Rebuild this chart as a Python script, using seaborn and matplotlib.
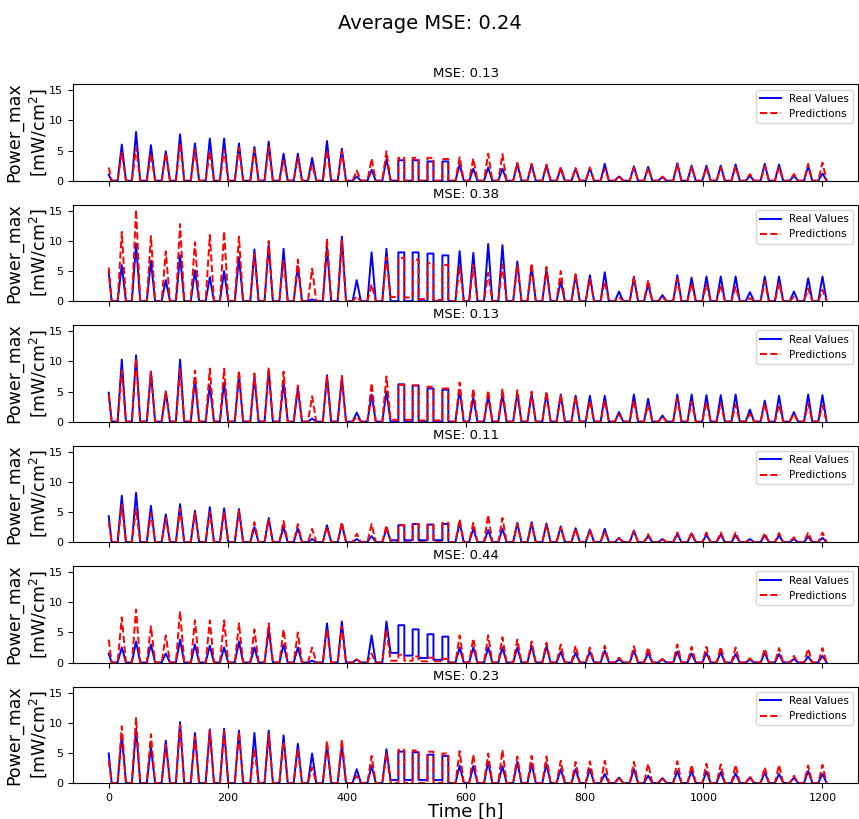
import pandas as pd
import seaborn as sns
import matplotlib
matplotlib.use("Agg")
import matplotlib.pyplot as plt

# --- data: one peak per day, per panel ---
day_times = [0, 22, 46, 71, 96, 120, 145, 170, 194, 219,
             245, 269, 294, 318, 342, 367, 392, 417, 442, 467,
             492, 516, 541, 566, 590, 613, 638, 662, 687, 711,
             736, 760, 785, 809, 834, 858, 883, 907, 931, 956,
             980, 1005, 1029, 1054, 1078, 1103, 1127, 1152, 1176, 1200]
box_days = [20, 21, 22, 23]          # days where the curve is a flat-topped block
mse_values = [0.13, 0.38, 0.13, 0.11, 0.44, 0.23]
avg_mse = 0.24

real_1 = [1.0, 6.0, 8.1, 5.9, 4.9, 7.7, 6.2, 7.0, 7.0, 6.2, 5.6, 6.5, 4.5, 4.5, 3.8, 6.6, 5.3, 0.7, 1.8, 3.6,
          3.4, 3.4, 3.2, 3.2, 2.7, 2.0, 2.2, 2.0, 2.8, 2.7, 2.5, 2.0, 2.0, 2.1, 2.8, 0.7, 2.4, 2.3, 0.6, 2.9,
          2.5, 2.5, 2.5, 2.7, 0.8, 2.8, 2.7, 0.8, 2.4, 1.2]
pred_1 = [2.2, 4.7, 5.5, 4.5, 4.6, 6.3, 5.2, 4.9, 5.2, 5.5, 5.2, 5.6, 3.4, 3.9, 2.7, 5.1, 4.9, 1.7, 3.7, 4.9,
          3.8, 3.8, 3.8, 3.6, 3.9, 3.7, 4.5, 4.4, 3.0, 2.8, 2.7, 2.3, 2.1, 2.2, 2.0, 0.8, 2.2, 2.1, 0.7, 2.7,
          2.3, 2.2, 2.2, 2.3, 1.1, 2.4, 2.2, 1.1, 2.8, 3.0]
real_2 = [4.8, 6.0, 9.5, 6.7, 3.5, 7.6, 5.1, 4.0, 5.0, 7.3, 8.6, 9.3, 8.7, 5.8, 0.3, 9.0, 10.7, 3.5, 8.1, 8.7,
          8.1, 8.1, 7.9, 7.6, 8.3, 8.0, 9.5, 9.3, 6.6, 5.8, 5.2, 3.3, 4.3, 4.3, 4.8, 1.6, 3.9, 2.8, 1.0, 4.3,
          3.9, 4.1, 4.1, 4.1, 1.5, 4.1, 4.1, 1.6, 3.8, 4.1]
pred_2 = [5.6, 11.5, 15.2, 10.8, 8.3, 12.8, 9.8, 11.0, 11.6, 10.7, 7.9, 10.0, 6.7, 6.9, 5.4, 10.4, 10.1, 0.8, 2.8, 7.3,
          7.2, 6.9, 6.3, 6.0, 5.8, 6.0, 4.7, 6.0, 6.0, 6.3, 5.7, 5.0, 4.5, 3.7, 3.3, 0.7, 4.1, 3.5, 0.7, 3.7,
          3.0, 2.8, 2.7, 2.4, 0.5, 3.3, 3.0, 0.7, 2.1, 1.9]
real_3 = [4.8, 10.3, 11.0, 8.3, 5.0, 10.3, 7.0, 6.0, 6.5, 7.8, 7.5, 8.5, 6.5, 5.5, 0.5, 7.7, 7.3, 1.5, 4.5, 5.0,
          6.2, 6.0, 5.5, 5.3, 5.3, 4.0, 4.3, 4.5, 4.7, 4.6, 4.7, 4.5, 4.3, 4.3, 4.3, 1.6, 4.5, 3.8, 1.0, 4.5,
          4.5, 4.4, 4.4, 4.5, 2.0, 3.5, 4.3, 1.6, 4.5, 4.4]
pred_3 = [4.5, 8.5, 10.5, 8.3, 5.0, 8.7, 8.5, 8.8, 8.8, 8.5, 8.0, 9.0, 8.3, 6.0, 4.2, 7.5, 7.6, 0.8, 6.4, 7.5,
          6.1, 6.0, 5.8, 5.5, 6.5, 5.5, 5.2, 5.5, 5.2, 5.0, 5.0, 4.5, 4.2, 3.5, 3.5, 1.2, 3.5, 2.8, 0.8, 3.8,
          3.3, 3.3, 3.0, 2.8, 1.3, 3.0, 2.8, 1.3, 3.0, 2.7]
real_4 = [4.3, 7.7, 8.2, 6.0, 4.6, 6.3, 5.2, 5.8, 5.6, 5.5, 2.5, 4.0, 2.5, 2.3, 0.5, 2.8, 3.0, 0.5, 1.0, 2.2,
          2.8, 3.0, 2.9, 3.0, 3.2, 2.2, 2.0, 2.2, 3.2, 3.3, 3.1, 2.6, 2.3, 2.1, 2.2, 0.7, 1.9, 1.0, 0.5, 1.3,
          1.4, 1.2, 1.2, 1.1, 0.5, 1.1, 1.1, 0.5, 0.9, 0.7]
pred_4 = [3.3, 6.2, 5.5, 4.8, 4.0, 5.5, 4.8, 5.0, 5.0, 5.2, 3.3, 3.7, 3.5, 3.0, 2.2, 2.5, 3.3, 1.4, 3.0, 2.8,
          2.8, 3.0, 2.9, 3.2, 3.8, 3.2, 4.5, 4.0, 3.0, 3.0, 2.9, 2.4, 2.2, 2.0, 1.8, 0.6, 1.8, 1.3, 0.4, 1.6,
          1.6, 1.6, 1.6, 1.6, 0.3, 1.5, 1.5, 0.8, 1.6, 1.6]
real_5 = [1.5, 2.5, 3.5, 3.0, 1.5, 3.8, 3.0, 2.8, 2.5, 3.5, 2.5, 5.5, 3.0, 2.5, 0.3, 6.5, 6.8, 0.5, 4.5, 6.8,
          6.2, 5.5, 4.7, 4.3, 2.5, 2.5, 2.5, 2.5, 2.5, 2.8, 2.7, 1.8, 1.6, 1.8, 2.0, 0.5, 2.0, 1.6, 0.5, 1.8,
          1.5, 1.6, 1.7, 1.4, 0.5, 1.6, 1.4, 0.6, 1.0, 1.1]
pred_5 = [3.8, 7.5, 8.8, 6.0, 4.5, 8.5, 7.0, 7.0, 7.0, 6.5, 5.5, 6.5, 5.5, 5.0, 2.5, 5.5, 6.0, 0.5, 1.5, 5.5,
          1.3, 1.0, 0.8, 0.6, 4.5, 4.0, 4.5, 4.2, 3.8, 3.5, 3.3, 3.0, 2.8, 2.5, 2.8, 0.8, 2.7, 2.5, 0.6, 3.0,
          2.6, 2.6, 2.6, 2.5, 0.7, 2.3, 2.4, 1.1, 2.3, 2.4]
real_6 = [4.9, 8.0, 9.0, 6.0, 7.0, 10.1, 8.3, 8.9, 9.0, 8.7, 8.3, 8.7, 7.9, 6.5, 4.9, 6.3, 6.3, 2.3, 2.9, 5.6,
          5.2, 5.1, 4.7, 4.5, 2.9, 2.8, 3.5, 2.8, 3.5, 3.2, 3.2, 2.3, 2.3, 2.3, 1.5, 0.9, 2.3, 1.2, 0.8, 2.0,
          2.0, 1.9, 1.8, 1.6, 0.9, 1.8, 1.5, 0.9, 2.0, 1.5]
pred_6 = [3.7, 9.4, 10.8, 8.1, 6.3, 9.7, 7.7, 8.7, 8.6, 8.5, 5.7, 8.0, 6.9, 5.7, 2.6, 7.0, 7.2, 1.2, 4.5, 4.9,
          5.5, 5.4, 5.2, 4.9, 5.3, 4.7, 4.9, 5.5, 4.4, 4.5, 4.4, 3.7, 3.5, 3.6, 3.7, 1.0, 3.5, 3.2, 0.9, 3.6,
          3.0, 3.2, 3.1, 3.0, 1.1, 2.6, 3.0, 1.2, 2.9, 3.0]

# night levels before box days 20..23 and before day 24 (elsewhere the night is 0)
real_gaps = [[0, 0, 0, 0, 0], [0, 0, 0, 0, 0], [0, 0, 0, 0, 0],
             [0.3, 0.3, 0.3, 0.3, 0], [1.6, 1.15, 0.75, 0.45, 0], [0.5, 0.5, 0.5, 0.5, 0]]
pred_gaps = [[0, 0, 0, 0, 0], [0.7, 0.6, 0.35, 0.2, 0], [0.3, 0.3, 0.2, 0.2, 0],
             [0, 0, 0, 0, 0], [0.3, 0.3, 0.2, 0.2, 0], [0, 0, 0, 0, 0]]

reals = [real_1, real_2, real_3, real_4, real_5, real_6]
preds = [pred_1, pred_2, pred_3, pred_4, pred_5, pred_6]


def day_series(peaks, gaps):
    night = {box_days[0] + i: g for i, g in enumerate(gaps)}
    t_out, y_out = [], []
    for k, (t, h) in enumerate(zip(day_times, peaks)):
        before = night.get(k, 0.0)
        after = night.get(k + 1, 0.0)
        if k in box_days:
            t_out += [t - 5, t - 5, t + 5, t + 5]
            y_out += [before, h, h, after]
        elif k == 0:
            t_out += [t, t + 5]
            y_out += [h, after]
        else:
            t_out += [t - 7, t, t + 7]
            y_out += [before, h, after]
    return pd.DataFrame({"Time [h]": t_out, "Power": y_out})


fig, axes = plt.subplots(6, 1, figsize=(8.59, 8.19), dpi=100, sharex=True, sharey=True)
fig.subplots_adjust(left=0.085, right=0.999, top=0.897, bottom=0.044, hspace=0.25)

for i, ax in enumerate(axes):
    df_real = day_series(reals[i], real_gaps[i])
    df_pred = day_series(preds[i], pred_gaps[i])
    sns.lineplot(data=df_real, x="Time [h]", y="Power", ax=ax, color="blue",
                 linewidth=1.4, estimator=None, sort=False, label="Real Values")
    sns.lineplot(data=df_pred, x="Time [h]", y="Power", ax=ax, color="red",
                 linewidth=1.4, linestyle="--", estimator=None, sort=False, label="Predictions")
    ax.set_title(f"MSE: {mse_values[i]:.2f}", fontsize=9.5, pad=5)
    ax.set_ylabel("Power_max\n[mW/cm$^2$]", fontsize=12.5)
    ax.yaxis.set_label_coords(-0.031, 0.5)
    ax.set_xlabel("")
    ax.set_ylim(0, 16)
    ax.set_yticks([0, 5, 10, 15])
    ax.tick_params(labelsize=8)
    ax.legend(loc="upper right", fontsize=7.5)

axes[-1].set_xlim(-60, 1260)
axes[-1].set_xticks([0, 200, 400, 600, 800, 1000, 1200])
axes[-1].set_xlabel("Time [h]", fontsize=13, labelpad=0)
fig.suptitle(f"Average MSE: {avg_mse:.2f}", fontsize=14, y=0.983)

fig.savefig("out.png", dpi=100)
